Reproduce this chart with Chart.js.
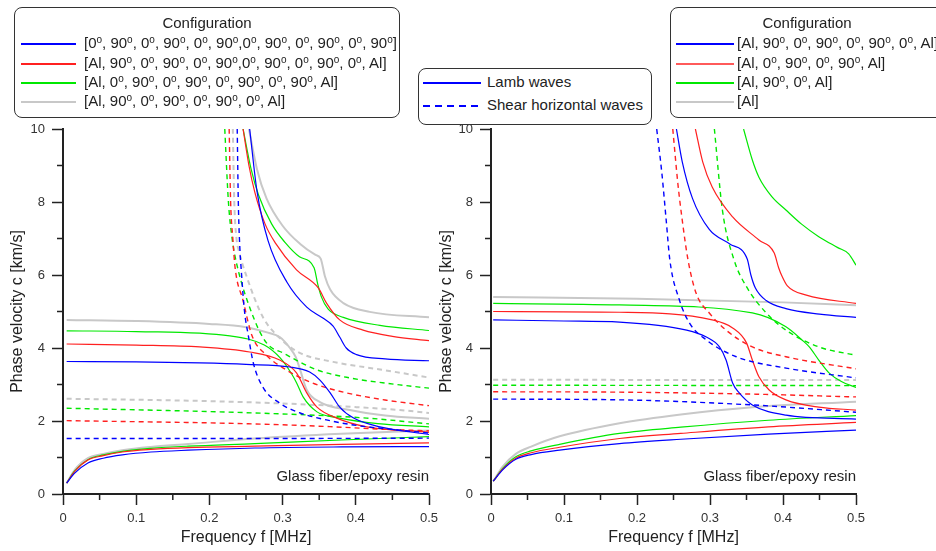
<!DOCTYPE html>
<html>
<head>
<meta charset="utf-8">
<script src="https://cdn.jsdelivr.net/npm/chart.js@4.4.1/dist/chart.umd.min.js"></script>
<style>
body { margin:0; width:936px; height:551px; overflow:hidden; background:#fff;
       font-family:"Liberation Sans", Arial, sans-serif; color:#222; position:relative; }
canvas { position:absolute; top:0; }
#leftChart { left:0; }
#rightChart { left:430px; }
.legend { position:absolute; border:1px solid #333; border-radius:8px; background:#fff;
          font-size:15px; box-sizing:border-box; overflow:hidden; }
.legend .title { position:absolute; left:0; right:0; text-align:center; height:20px; line-height:20px; }
.row { position:absolute; height:20px; line-height:20px; white-space:nowrap; }
.sw { position:absolute; }
sup { font-size:10px; vertical-align:5px; line-height:0; }
</style>
</head>
<body>
<canvas id="leftChart" width="468" height="551"></canvas>
<canvas id="rightChart" width="506" height="551"></canvas>

<div class="legend" style="left:14px; top:7px; width:386px; height:111px;">
  <div class="title" style="top:5px;">Configuration</div>
  <div class="sw" style="left:6px; width:55px; top:35px; height:1.5px; background:#0000ff;"></div>
  <div class="row" style="left:69px; top:25px;">[0<sup>o</sup>, 90<sup>o</sup>, 0<sup>o</sup>, 90<sup>o</sup>, 0<sup>o</sup>, 90<sup>o</sup>,0<sup>o</sup>, 90<sup>o</sup>, 0<sup>o</sup>, 90<sup>o</sup>, 0<sup>o</sup>, 90<sup>o</sup>]</div>
  <div class="sw" style="left:6px; width:55px; top:55px; height:1.5px; background:#ff2020;"></div>
  <div class="row" style="left:69px; top:45px;">[Al, 90<sup>o</sup>, 0<sup>o</sup>, 90<sup>o</sup>, 0<sup>o</sup>, 90<sup>o</sup>,0<sup>o</sup>, 90<sup>o</sup>, 0<sup>o</sup>, 90<sup>o</sup>, 0<sup>o</sup>, Al]</div>
  <div class="sw" style="left:6px; width:55px; top:74px; height:1.5px; background:#00e800;"></div>
  <div class="row" style="left:69px; top:64px;">[Al, 0<sup>o</sup>, 90<sup>o</sup>, 0<sup>o</sup>, 90<sup>o</sup>, 0<sup>o</sup>, 90<sup>o</sup>, 0<sup>o</sup>, 90<sup>o</sup>, Al]</div>
  <div class="sw" style="left:6px; width:55px; top:93px; height:1.5px; background:#c8c8c8;"></div>
  <div class="row" style="left:69px; top:83px;">[Al, 90<sup>o</sup>, 0<sup>o</sup>, 90<sup>o</sup>, 0<sup>o</sup>, 90<sup>o</sup>, 0<sup>o</sup>, Al]</div>
</div>

<div class="legend" style="left:418px; top:68px; width:234px; height:57px;">
  <div class="sw" style="left:4px; width:58px; top:13px; height:1.5px; background:#0000ff;"></div>
  <div class="row" style="left:68px; top:3px;">Lamb waves</div>
  <div class="sw" style="left:4px; width:58px; top:36px; height:1.5px; background:repeating-linear-gradient(to right, #0000ff 0 7px, transparent 7px 12px);"></div>
  <div class="row" style="left:68px; top:26px;">Shear horizontal waves</div>
</div>

<div class="legend" style="left:670px; top:7px; width:274px; height:111px;">
  <div class="title" style="top:5px;">Configuration</div>
  <div class="sw" style="left:5px; width:58px; top:35px; height:2px; background:#0000ff;"></div>
  <div class="row" style="left:66px; top:25px;">[Al, 90<sup>o</sup>, 0<sup>o</sup>, 90<sup>o</sup>, 0<sup>o</sup>, 90<sup>o</sup>, 0<sup>o</sup>, Al]</div>
  <div class="sw" style="left:5px; width:58px; top:55px; height:1.5px; background:#ff5a5a;"></div>
  <div class="row" style="left:66px; top:45px;">[Al, 0<sup>o</sup>, 90<sup>o</sup>, 0<sup>o</sup>, 90<sup>o</sup>, Al]</div>
  <div class="sw" style="left:5px; width:58px; top:74px; height:1.5px; background:#00e800;"></div>
  <div class="row" style="left:66px; top:64px;">[Al, 90<sup>o</sup>, 0<sup>o</sup>, Al]</div>
  <div class="sw" style="left:5px; width:58px; top:93px; height:2px; background:#c8c8c8;"></div>
  <div class="row" style="left:66px; top:83px;">[Al]</div>
</div>

<script>
// Etiquetas de los ejes
const fLabels = ['0', '0.1', '0.2', '0.3', '0.4', '0.5'];
const cLabels = ['0', '2', '4', '6', '8', '10'];

// Colores
const blue = '#0000ff';
const red = '#ff2020';
const green = '#00e800';
const gray = '#c8c8c8';

// ---- Panel izquierdo: [f (MHz), c (km/s)] ----
// [0,90,...] sin Al (azul)
const lBlueA0 = [[0.005,0.30],[0.016,0.57],[0.034,0.85],[0.055,0.98],[0.081,1.07],[0.12,1.15],[0.171,1.20],[0.262,1.26],[0.38,1.29],[0.5,1.30]];
const lBlueS0 = [[0.005,3.63],[0.1,3.62],[0.187,3.59],[0.25,3.55],[0.31,3.48],[0.337,3.34],[0.351,3.12],[0.365,2.77],[0.378,2.38],[0.397,2.08],[0.433,1.84],[0.5,1.63]];
const lBlueM2 = [[0.255,10],[0.265,8.3],[0.28,6.95],[0.306,5.8],[0.333,5.12],[0.355,4.82],[0.369,4.6],[0.378,4.3],[0.387,4.0],[0.401,3.82],[0.44,3.70],[0.5,3.65]];
const lBlueSh0 = [[0.005,1.52],[0.25,1.52],[0.5,1.53]];
const lBlueSh1 = [[0.238,10],[0.2395,8],[0.241,7],[0.244,6],[0.248,5],[0.253,4.36],[0.26,3.59],[0.273,2.93],[0.296,2.49],[0.324,2.22],[0.36,2.03],[0.397,1.89],[0.46,1.75],[0.5,1.67]];

// [Al,90,...,Al] 12 capas (rojo)
const lRedA0 = [[0.005,0.30],[0.016,0.62],[0.034,0.93],[0.055,1.05],[0.081,1.15],[0.12,1.22],[0.171,1.27],[0.262,1.31],[0.38,1.36],[0.5,1.40]];
const lRedS0 = [[0.005,4.11],[0.1,4.08],[0.187,4.03],[0.255,3.89],[0.296,3.67],[0.319,3.32],[0.333,2.77],[0.347,2.38],[0.374,2.08],[0.415,1.84],[0.5,1.69]];
const lRedM2 = [[0.246,10],[0.254,9.0],[0.262,8.27],[0.276,7.4],[0.29,6.88],[0.319,6.14],[0.349,5.64],[0.36,5.23],[0.378,4.77],[0.41,4.49],[0.45,4.32],[0.5,4.2]];
const lRedSh0 = [[0.005,2.01],[0.262,1.92],[0.37,1.84],[0.43,1.78],[0.5,1.73]];
const lRedSh1 = [[0.227,10],[0.229,8],[0.232,7],[0.235,6.22],[0.246,5.3],[0.258,4.35],[0.278,3.8],[0.301,3.45],[0.337,3.07],[0.383,2.79],[0.442,2.57],[0.5,2.42]];

// [Al,0,90,...,Al] 10 capas (verde)
const lGreenA0 = [[0.005,0.30],[0.016,0.63],[0.034,0.94],[0.055,1.07],[0.081,1.17],[0.12,1.25],[0.171,1.31],[0.262,1.38],[0.38,1.48],[0.5,1.57]];
const lGreenS0 = [[0.005,4.47],[0.1,4.45],[0.228,4.33],[0.275,4.08],[0.297,3.72],[0.312,3.3],[0.319,3.05],[0.328,2.66],[0.347,2.25],[0.378,2.08],[0.43,1.93],[0.5,1.84]];
const lGreenM2 = [[0.246,10],[0.257,8.9],[0.267,8.2],[0.285,7.4],[0.303,6.9],[0.323,6.5],[0.343,6.2],[0.348,5.75],[0.353,5.4],[0.362,5.07],[0.383,4.84],[0.433,4.62],[0.5,4.48]];
const lGreenSh0 = [[0.005,2.35],[0.262,2.22],[0.415,2.08],[0.5,1.92]];
const lGreenSh1 = [[0.221,10],[0.226,8],[0.231,7],[0.237,6.33],[0.26,4.85],[0.278,4.14],[0.301,3.86],[0.347,3.4],[0.392,3.18],[0.46,2.99],[0.5,2.9]];

// [Al,90,0,90,0,90,0,Al] (gris)
const lGrayA0 = [[0.005,0.30],[0.016,0.66],[0.034,0.98],[0.055,1.1],[0.081,1.2],[0.12,1.29],[0.171,1.37],[0.262,1.52],[0.38,1.65],[0.5,1.74]];
const lGrayS0 = [[0.005,4.77],[0.1,4.74],[0.2,4.66],[0.25,4.57],[0.28,4.42],[0.296,4.3],[0.31,4.0],[0.318,3.75],[0.324,3.4],[0.333,2.85],[0.351,2.52],[0.392,2.3],[0.44,2.15],[0.5,2.06]];
const lGrayM2 = [[0.254,10],[0.265,8.9],[0.278,8.1],[0.3,7.35],[0.324,6.85],[0.345,6.55],[0.352,6.45],[0.358,5.95],[0.365,5.6],[0.383,5.23],[0.419,4.99],[0.5,4.84]];
const lGraySh0 = [[0.005,2.61],[0.187,2.55],[0.3,2.48],[0.4,2.38],[0.46,2.3],[0.5,2.22]];
const lGraySh1 = [[0.232,10],[0.234,8],[0.237,7],[0.24,6.68],[0.251,5.95],[0.273,4.85],[0.3,4.2],[0.324,3.86],[0.369,3.62],[0.437,3.4],[0.5,3.19]];

// ---- Panel derecho ----
// [Al,90,0,90,0,90,0,Al] (azul)
const rBlueA0 = [[0.003,0.35],[0.016,0.66],[0.034,0.95],[0.055,1.08],[0.094,1.2],[0.176,1.38],[0.26,1.5],[0.38,1.64],[0.5,1.75]];
const rBlueS0 = [[0.003,4.77],[0.1,4.74],[0.176,4.71],[0.268,4.49],[0.295,4.3],[0.313,4.03],[0.322,3.67],[0.331,3.04],[0.34,2.77],[0.358,2.44],[0.404,2.16],[0.5,2.05]];
const rBlueM2 = [[0.254,10],[0.262,9.1],[0.276,8.1],[0.299,7.25],[0.327,6.85],[0.351,6.44],[0.356,6.0],[0.362,5.65],[0.377,5.3],[0.404,5.08],[0.45,4.93],[0.5,4.84]];
const rBlueSh0 = [[0.003,2.6],[0.176,2.58],[0.358,2.44],[0.5,2.24]];
const rBlueSh1 = [[0.227,10],[0.234,8.8],[0.24,7.5],[0.245,6.41],[0.258,5.32],[0.272,4.68],[0.295,4.22],[0.336,3.76],[0.404,3.45],[0.5,3.18]];

// [Al,0,90,0,90,Al] (rojo)
const rRedA0 = [[0.003,0.35],[0.016,0.68],[0.034,0.98],[0.055,1.13],[0.094,1.28],[0.176,1.52],[0.26,1.66],[0.38,1.84],[0.5,1.96]];
const rRedS0 = [[0.003,5.0],[0.176,4.98],[0.303,4.77],[0.331,4.55],[0.35,4.14],[0.358,3.67],[0.367,3.21],[0.381,2.85],[0.404,2.58],[0.449,2.38],[0.5,2.3]];
const rRedM2 = [[0.28,10],[0.29,9.1],[0.303,8.41],[0.331,7.59],[0.367,6.96],[0.388,6.6],[0.394,6.2],[0.399,5.95],[0.406,5.7],[0.432,5.45],[0.5,5.22]];
const rRedSh0 = [[0.003,2.8],[0.176,2.79],[0.35,2.74],[0.5,2.66]];
const rRedSh1 = [[0.249,10],[0.256,8.5],[0.262,7.5],[0.27,6.4],[0.281,5.5],[0.299,4.96],[0.322,4.49],[0.358,4.03],[0.404,3.76],[0.5,3.43]];

// [Al,90,0,Al] (verde)
const rGreenA0 = [[0.003,0.35],[0.016,0.7],[0.034,1.02],[0.055,1.18],[0.094,1.36],[0.176,1.66],[0.26,1.83],[0.38,2.02],[0.5,2.15]];
const rGreenS0 = [[0.003,5.22],[0.176,5.18],[0.358,4.96],[0.404,4.58],[0.426,4.22],[0.436,4.03],[0.449,3.67],[0.463,3.32],[0.48,3.08],[0.5,2.92]];
const rGreenM2 = [[0.346,10],[0.358,9.15],[0.367,8.68],[0.385,8.14],[0.404,7.78],[0.425,7.4],[0.449,7.05],[0.475,6.75],[0.49,6.58],[0.5,6.27]];
const rGreenSh0 = [[0.003,2.98],[0.5,2.97]];
const rGreenSh1 = [[0.306,10],[0.317,7.78],[0.333,6.41],[0.35,5.68],[0.377,4.96],[0.404,4.49],[0.449,4.03],[0.5,3.8]];

// [Al] (gris)
const rGrayA0 = [[0.003,0.35],[0.016,0.75],[0.034,1.1],[0.055,1.3],[0.094,1.58],[0.176,1.94],[0.26,2.18],[0.358,2.38],[0.5,2.53]];
const rGrayS0 = [[0.003,5.4],[0.2,5.35],[0.4,5.25],[0.5,5.17]];
const rGraySh0 = [[0.003,3.13],[0.5,3.12]];

// Convierte una lista de pares a dataset de Chart.js
function curve(points, color, dashed) {
    const isGray = color === gray;
    return {
        data: points.map(p => ({ x: p[0], y: p[1] })),
        borderColor: color,
        borderWidth: isGray ? 2 : (dashed ? 1.4 : 1.2),
        borderDash: dashed ? [5, 4] : [],
        pointRadius: 0,
        fill: false,
        cubicInterpolationMode: 'monotone'
    };
}

function isMajorX(v) {
    return Math.abs(v * 10 - Math.round(v * 10)) < 1e-6;
}
function isMajorY(v) {
    return Math.abs(v / 2 - Math.round(v / 2)) < 1e-6;
}

// Marcas menores y texto del material
const extrasPlugin = {
    id: 'extras',
    afterDraw(chart) {
        const { ctx, chartArea: a, scales: { x, y } } = chart;
        ctx.save();
        ctx.strokeStyle = '#222';
        ctx.lineWidth = 1.5;
        ctx.beginPath();
        x.ticks.forEach(t => {
            if (!isMajorX(t.value)) {
                const px = x.getPixelForValue(t.value);
                ctx.moveTo(px, a.bottom);
                ctx.lineTo(px, a.bottom + 6);
            }
        });
        y.ticks.forEach(t => {
            if (!isMajorY(t.value)) {
                const py = y.getPixelForValue(t.value);
                ctx.moveTo(a.left, py);
                ctx.lineTo(a.left - 6, py);
            }
        });
        ctx.stroke();
        ctx.fillStyle = '#222';
        ctx.font = '15px "Liberation Sans", Arial, sans-serif';
        ctx.textAlign = 'right';
        ctx.textBaseline = 'middle';
        ctx.fillText('Glass fiber/epoxy resin', a.right, a.bottom - 17);
        ctx.restore();
    }
};

function makeChart(id, datasets, yWidth, padRight, titleOffset) {
    const tickFont = { family: '"Liberation Sans", Arial, sans-serif', size: 13 };
    const titleFont = { family: '"Liberation Sans", Arial, sans-serif', size: 16 };
    return new Chart(document.getElementById(id), {
        type: 'line',
        data: { datasets: datasets },
        options: {
            responsive: false,
            animation: false,
            layout: { padding: { left: 0, right: padRight, top: 129, bottom: 0 } },
            plugins: { legend: { display: false }, tooltip: { enabled: false } },
            scales: {
                x: {
                    type: 'linear', min: 0, max: 0.5,
                    ticks: {
                        stepSize: 0.05, autoSkip: false, maxRotation: 0,
                        font: tickFont, color: '#333', padding: 6,
                        callback: v => isMajorX(v) ? fLabels[Math.round(v * 10)] : ''
                    },
                    grid: {
                        drawOnChartArea: false, tickLength: 11, tickWidth: 1.5,
                        tickColor: c => (c.tick && isMajorX(c.tick.value)) ? '#222' : 'rgba(0,0,0,0)'
                    },
                    border: { display: true, color: '#222', width: 2 },
                    title: { display: true, text: 'Frequency f [MHz]', font: titleFont, color: '#222',
                             padding: { top: 0, bottom: 4 } },
                    afterFit: s => { s.height = 57; }
                },
                y: {
                    type: 'linear', min: 0, max: 10,
                    ticks: {
                        stepSize: 1, autoSkip: false,
                        font: tickFont, color: '#333', padding: 7,
                        callback: v => isMajorY(v) ? cLabels[Math.round(v / 2)] : ''
                    },
                    grid: {
                        drawOnChartArea: false, tickLength: 11, tickWidth: 1.5,
                        tickColor: c => (c.tick && isMajorY(c.tick.value)) ? '#222' : 'rgba(0,0,0,0)'
                    },
                    border: { display: true, color: '#222', width: 2 },
                    title: { display: true, text: 'Phase velocity c [km/s]', font: titleFont, color: '#222',
                             padding: { top: titleOffset, bottom: 0 } },
                    afterFit: s => { s.width = yWidth; }
                }
            }
        },
        plugins: [extrasPlugin]
    });
}

const leftSets = [
    curve(lBlueA0, blue), curve(lBlueS0, blue), curve(lBlueM2, blue),
    curve(lBlueSh0, blue, true), curve(lBlueSh1, blue, true),
    curve(lRedA0, red), curve(lRedS0, red), curve(lRedM2, red),
    curve(lRedSh0, red, true), curve(lRedSh1, red, true),
    curve(lGreenA0, green), curve(lGreenS0, green), curve(lGreenM2, green),
    curve(lGreenSh0, green, true), curve(lGreenSh1, green, true),
    curve(lGrayA0, gray), curve(lGrayS0, gray), curve(lGrayM2, gray),
    curve(lGraySh0, gray, true), curve(lGraySh1, gray, true)
];

const rightSets = [
    curve(rBlueA0, blue), curve(rBlueS0, blue), curve(rBlueM2, blue),
    curve(rBlueSh0, blue, true), curve(rBlueSh1, blue, true),
    curve(rRedA0, red), curve(rRedS0, red), curve(rRedM2, red),
    curve(rRedSh0, red, true), curve(rRedSh1, red, true),
    curve(rGreenA0, green), curve(rGreenS0, green), curve(rGreenM2, green),
    curve(rGreenSh0, green, true), curve(rGreenSh1, green, true),
    curve(rGrayA0, gray), curve(rGrayS0, gray), curve(rGraySh0, gray, true)
];

makeChart('leftChart', leftSets, 63, 39, 8.4);
makeChart('rightChart', rightSets, 61, 80, 7.4);
</script>
</body>
</html>
